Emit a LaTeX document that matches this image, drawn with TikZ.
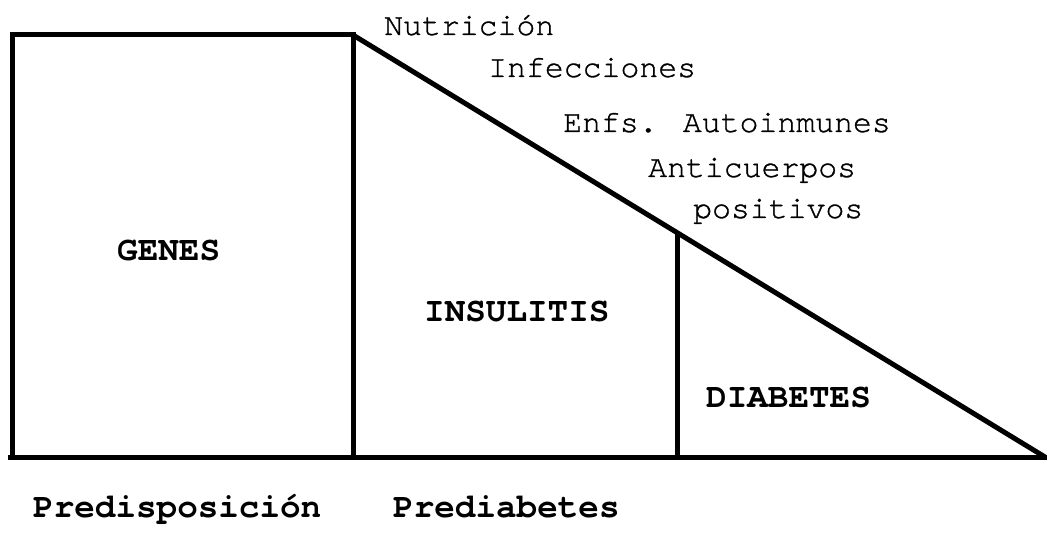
\documentclass[tikz,border=0pt]{standalone}
\usepackage{fontspec}
\setmonofont{TeX Gyre Cursor}
\newfontfamily\cursorthick[FakeBold=1]{TeX Gyre Cursor}
\begin{document}
\begin{tikzpicture}[x=1pt,y=-1pt,
  shape line/.style={line width=5pt, line join=miter, draw=black},
  factor/.style={anchor=base west, inner sep=0pt, font=\cursorthick\fontsize{31.5}{36}\selectfont},
  stage/.style={anchor=base west, inner sep=0pt, font=\ttfamily\bfseries\fontsize{34.3}{40}\selectfont}]
\useasboundingbox (0,0) rectangle (1047,534);
% named points
\coordinate (tl) at (12,35);
\coordinate (tr) at (353,35);
\coordinate (bl) at (12,457);
\coordinate (bm) at (353,457);
\coordinate (dtop) at (677,232);
\coordinate (dbot) at (677,457);
\coordinate (lend) at (8,457);
\coordinate (rend) at (1047,457);
\coordinate (tip) at (1045,457);
% shapes
\draw[shape line] (bl) -- (tl) -- (tr) -- (bm);
\draw[shape line] (tr) -- (tip);
\draw[shape line] (dtop) -- (dbot);
\draw[shape line] (lend) -- (rend);
% factor labels
\node[factor] (nut) at (384,35) {Nutrición};
\node[factor] (inf) at (488,77) {Infecciones};
\node[factor] (enf) at (563,132) {Enfs. Autoinmunes};
\node[factor] (ant) at (648,177) {Anticuerpos};
\node[factor] (pos) at (693,218) {positivos};
% stage labels
\node[stage] (genes) at (117,261) {GENES};
\node[stage] (insul) at (424,322) {INSULITIS};
\node[stage] (diab) at (706,408) {DIABETES};
\node[stage] (pred) at (33,517) {Predisposición};
\node[stage] (prediab) at (393,517) {Prediabetes};
\end{tikzpicture}
\end{document}
